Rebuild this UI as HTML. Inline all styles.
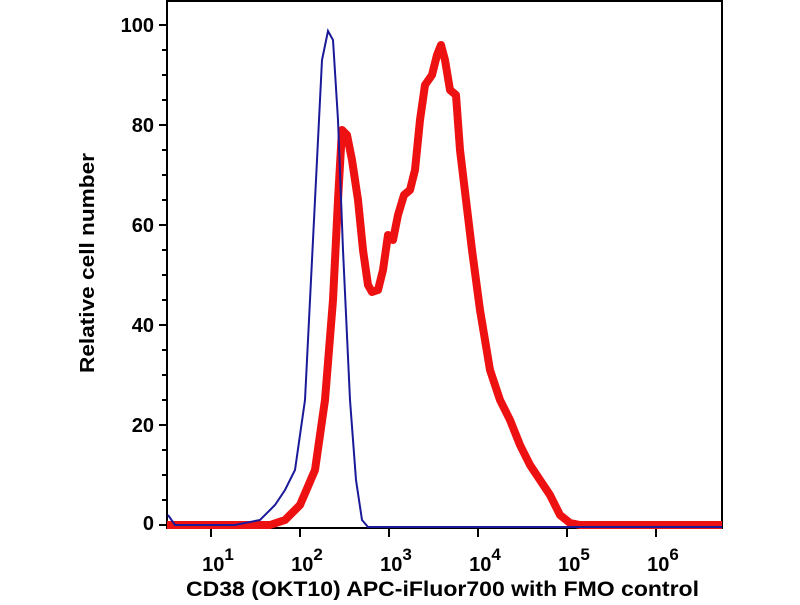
<!DOCTYPE html><html><head><style>body{margin:0;background:#fff}</style></head><body>
<svg width="800" height="600" xmlns="http://www.w3.org/2000/svg" font-family="Liberation Sans, sans-serif" font-weight="bold">
<rect x="167" y="1" width="555" height="527" fill="#fff" stroke="#000" stroke-width="2"/>
<g stroke="#000" stroke-width="2">
<line x1="159" y1="25" x2="167" y2="25"/><line x1="159" y1="125" x2="167" y2="125"/><line x1="159" y1="225" x2="167" y2="225"/><line x1="159" y1="325" x2="167" y2="325"/><line x1="159" y1="425" x2="167" y2="425"/><line x1="159" y1="525" x2="167" y2="525"/>
<line x1="162" y1="50" x2="167" y2="50"/><line x1="162" y1="75" x2="167" y2="75"/><line x1="162" y1="100" x2="167" y2="100"/>
<line x1="162" y1="150" x2="167" y2="150"/><line x1="162" y1="175" x2="167" y2="175"/><line x1="162" y1="200" x2="167" y2="200"/>
<line x1="162" y1="250" x2="167" y2="250"/><line x1="162" y1="275" x2="167" y2="275"/><line x1="162" y1="300" x2="167" y2="300"/>
<line x1="162" y1="350" x2="167" y2="350"/><line x1="162" y1="375" x2="167" y2="375"/><line x1="162" y1="400" x2="167" y2="400"/>
<line x1="162" y1="450" x2="167" y2="450"/><line x1="162" y1="475" x2="167" y2="475"/><line x1="162" y1="500" x2="167" y2="500"/>
<line x1="211" y1="528" x2="211" y2="537"/><line x1="300" y1="528" x2="300" y2="537"/><line x1="389" y1="528" x2="389" y2="537"/><line x1="478" y1="528" x2="478" y2="537"/><line x1="567" y1="528" x2="567" y2="537"/><line x1="656" y1="528" x2="656" y2="537"/>
</g>
<g stroke="#000" stroke-width="1.5" id="mt"></g>
<g font-size="20" text-anchor="end"><text x="154" y="32">100</text><text x="154" y="132">80</text><text x="154" y="232">60</text><text x="154" y="332">40</text><text x="154" y="432">20</text><text x="154" y="530">0</text></g>
<g font-size="20" text-anchor="middle">
<text x="218" y="571">10<tspan font-size="17" dy="-11">1</tspan></text>
<text x="307" y="571">10<tspan font-size="17" dy="-11">2</tspan></text>
<text x="396" y="571">10<tspan font-size="17" dy="-11">3</tspan></text>
<text x="485" y="571">10<tspan font-size="17" dy="-11">4</tspan></text>
<text x="574" y="571">10<tspan font-size="17" dy="-11">5</tspan></text>
<text x="663" y="571">10<tspan font-size="17" dy="-11">6</tspan></text>
</g>
<text x="186" y="596" font-size="21" textLength="513" lengthAdjust="spacingAndGlyphs">CD38 (OKT10) APC-iFluor700 with FMO control</text>
<text transform="translate(94,373) rotate(-90)" font-size="20" textLength="220" lengthAdjust="spacingAndGlyphs">Relative cell number</text>
<polyline fill="none" stroke="#ee1111" stroke-width="8" stroke-linejoin="round" points="167,525 270,525 285,520 300,505 315,470 325,400 333,300 338,200 342,130 347,135 352,160 358,200 363,250 368,285 372,292 378,290 383,270 388,235 393,240 398,215 404,195 410,190 415,170 420,120 425,85 432,75 437,55 441,45 445,60 450,90 456,95 460,150 466,200 472,250 480,310 490,370 500,400 510,420 520,445 530,465 540,480 550,495 560,515 570,523 580,525 722,525"/>
<polyline fill="none" stroke="#1a1a99" stroke-width="2" points="168,515 175,525 235,525 260,520 275,505 285,490 295,470 305,400 315,200 322,60 328,31 333,40 338,120 343,250 350,400 356,480 362,520 368,527 722,527"/>
<script>
var g=document.getElementById('mt'),s='';
for(var d=0;d<7;d++){for(var k=2;k<10;k++){var x=122+89*(d+Math.log10(k));if(x>168&&x<721)s+='<line x1="'+x+'" y1="528" x2="'+x+'" y2="533"/>';}}
g.innerHTML=s;
</script>
</svg></body></html>
